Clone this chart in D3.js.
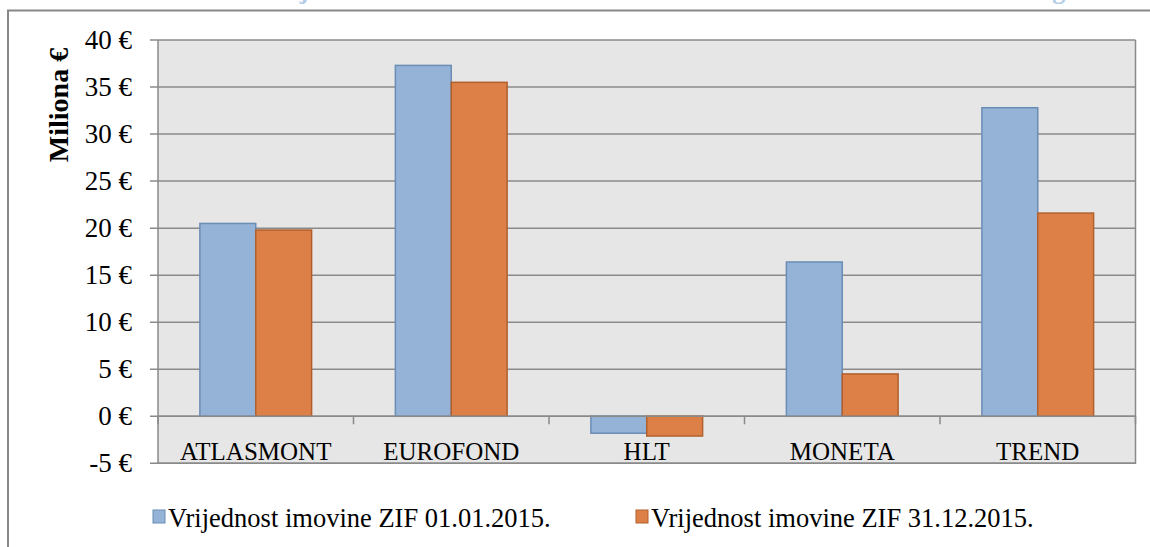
<!DOCTYPE html>
<html>
<head>
<meta charset="utf-8">
<script src="https://cdn.jsdelivr.net/npm/d3@7"></script>
<style>
  html, body { margin: 0; padding: 0; background: #fff; }
  svg { display: block; }
  text { font-family: "Liberation Serif", "DejaVu Serif", serif; fill: #000; }
</style>
</head>
<body>
<div id="chart"></div>
<script>
// categories and the two series (millions of euros)
const categories = ['ATLASMONT', 'EUROFOND', 'HLT', 'MONETA', 'TREND'];
const seriesNames = ['Vrijednost imovine ZIF 01.01.2015.', 'Vrijednost imovine ZIF 31.12.2015.'];
const valuesStart = [20.5, 37.3, -1.8, 16.4, 32.8];
const valuesEnd = [19.8, 35.5, -2.1, 4.5, 21.6];
const yTicks = [-5, 0, 5, 10, 15, 20, 25, 30, 35, 40];
const titleText = 'Grafik 12: Vrijednost imovine ZIF-ova 01.01.2015. i 31.12.2015. godine';

const fills = ['#95b3d7', '#dd8047'];
const strokes = ['#6b8cb4', '#b0602e'];

const width = 1150, height = 547;
const plot = {left: 158, right: 1135.5, top: 40, bottom: 463.3};

const svg = d3.select('#chart').append('svg')
    .attr('width', width)
    .attr('height', height);

// title of the figure, mostly above the visible area (only its lower edge shows)
svg.append('text')
    .attr('x', 86)
    .attr('y', -1)
    .attr('textLength', 1060)
    .attr('lengthAdjust', 'spacing')
    .style('font-weight', 'bold')
    .style('font-size', '26px')
    .style('fill', '#b3cbe6')
    .text(titleText);

// outer chart border
svg.append('rect')
    .attr('x', 8)
    .attr('y', 10.5)
    .attr('width', 1150)
    .attr('height', 560)
    .attr('fill', 'none')
    .attr('stroke', '#878787')
    .attr('stroke-width', 2);

const x0 = d3.scaleBand()
    .domain(categories)
    .range([plot.left, plot.right])
    .padding(0);

const x1 = d3.scaleBand()
    .domain(seriesNames)
    .range([0, x0.bandwidth()])
    .paddingInner(0)
    .paddingOuter(0.75);

const y = d3.scaleLinear()
    .domain([-5, 40])
    .range([plot.bottom, plot.top]);

// plot background
svg.append('rect')
    .attr('x', plot.left)
    .attr('y', plot.top)
    .attr('width', plot.right - plot.left)
    .attr('height', plot.bottom - plot.top)
    .attr('fill', '#e6e6e6');

// gridlines
svg.append('g')
    .selectAll('line')
    .data(yTicks)
    .enter()
    .append('line')
    .attr('x1', plot.left - 8)
    .attr('x2', plot.right)
    .attr('y1', d => y(d))
    .attr('y2', d => y(d))
    .attr('stroke', '#8a8a8a')
    .attr('stroke-width', 1.5);

// plot area outline (left, right, bottom)
svg.append('path')
    .attr('d', `M${plot.left},${plot.top}V${plot.bottom}H${plot.right}V${plot.top}`)
    .attr('fill', 'none')
    .attr('stroke', '#8a8a8a')
    .attr('stroke-width', 1.5);

// y tick labels
svg.append('g')
    .selectAll('text')
    .data(yTicks)
    .enter()
    .append('text')
    .attr('x', 132)
    .attr('y', d => y(d))
    .attr('dy', '0.33em')
    .attr('text-anchor', 'end')
    .style('font-size', '27px')
    .text(d => d + ' €');

// y axis title
svg.append('text')
    .attr('transform', 'translate(68,105) rotate(-90)')
    .attr('text-anchor', 'middle')
    .style('font-size', '28px')
    .style('font-weight', 'bold')
    .text('Miliona €');

// bars
const seriesData = [valuesStart, valuesEnd];
const groups = svg.append('g')
    .selectAll('g')
    .data(categories)
    .enter()
    .append('g')
    .attr('transform', d => `translate(${x0(d)},0)`);

groups.selectAll('rect')
    .data((c, i) => seriesNames.map((s, k) => ({series: s, k: k, value: seriesData[k][i]})))
    .enter()
    .append('rect')
    .attr('x', d => x1(d.series))
    .attr('width', x1.bandwidth())
    .attr('y', d => y(Math.max(0, d.value)))
    .attr('height', d => Math.abs(y(d.value) - y(0)))
    .attr('fill', d => fills[d.k])
    .attr('stroke', d => strokes[d.k])
    .attr('stroke-width', 1.5);

// x axis line at zero with tick marks between categories
svg.append('line')
    .attr('x1', plot.left)
    .attr('x2', plot.right)
    .attr('y1', y(0))
    .attr('y2', y(0))
    .attr('stroke', '#8a8a8a')
    .attr('stroke-width', 1.5);

const boundaries = categories.map(c => x0(c)).concat([plot.right]);
svg.append('g')
    .selectAll('line')
    .data(boundaries)
    .enter()
    .append('line')
    .attr('x1', d => d)
    .attr('x2', d => d)
    .attr('y1', y(0))
    .attr('y2', y(0) + 8)
    .attr('stroke', '#8a8a8a')
    .attr('stroke-width', 1.5);

// category labels
svg.append('g')
    .selectAll('text')
    .data(categories)
    .enter()
    .append('text')
    .attr('x', d => x0(d) + x0.bandwidth() / 2)
    .attr('y', 459.5)
    .attr('text-anchor', 'middle')
    .style('font-size', '25px')
    .text(d => d);

// legend
const legendX = [153, 636];
const legend = svg.append('g')
    .selectAll('g')
    .data(seriesNames)
    .enter()
    .append('g')
    .attr('transform', (d, i) => `translate(${legendX[i]},0)`);

legend.append('rect')
    .attr('x', 0)
    .attr('y', 510)
    .attr('width', 12)
    .attr('height', 13)
    .attr('fill', (d, i) => fills[i])
    .attr('stroke', (d, i) => strokes[i])
    .attr('stroke-width', 1);

legend.append('text')
    .attr('x', 15)
    .attr('y', 527)
    .style('font-size', '26.5px')
    .text(d => d);
</script>
</body>
</html>
